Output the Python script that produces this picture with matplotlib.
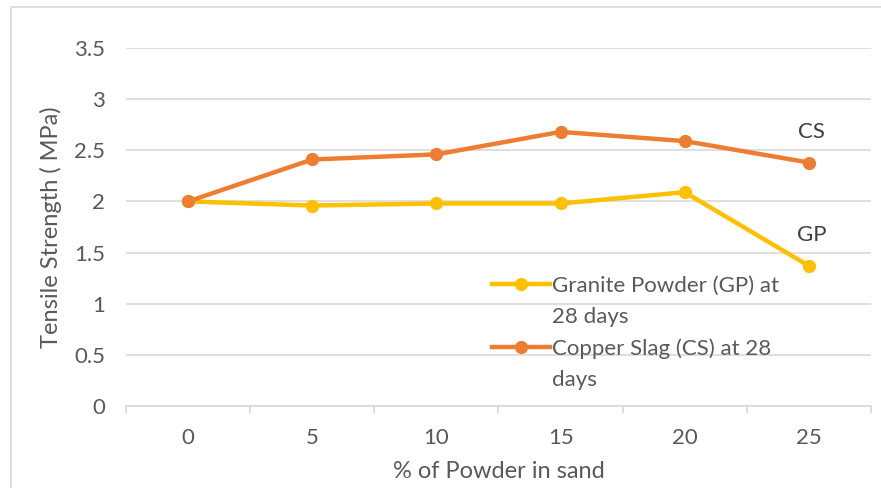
import matplotlib
matplotlib.use("Agg")
import matplotlib.pyplot as plt
from matplotlib.patches import Rectangle
from matplotlib.lines import Line2D

categories = ["0", "5", "10", "15", "20", "25"]
gp_values = [2.00, 1.96, 1.98, 1.98, 2.09, 1.37]
cs_values = [2.00, 2.41, 2.46, 2.68, 2.59, 2.38]
y_ticks = [0, 0.5, 1, 1.5, 2, 2.5, 3, 3.5]
y_tick_labels = ["0", "0.5", "1", "1.5", "2", "2.5", "3", "3.5"]

plt.rcParams['font.family'] = ['Lato', 'DejaVu Sans']
txt = '#595959'
grid_c = '#D9D9D9'
gp_c = '#FFC000'
cs_c = '#ED7D31'

W, H = 881, 488
fig = plt.figure(figsize=(W / 100, H / 100), dpi=100)
fig.patch.set_facecolor('white')

# outer chart border
fig.patches.append(Rectangle((11 / W, -0.1), 1.2, (H - 7) / H + 0.1, transform=fig.transFigure,
                             fill=False, edgecolor=grid_c, linewidth=1.2, zorder=0))

ax = fig.add_axes([126 / W, (H - 406) / H, (871 - 126) / W, (406 - 48) / H])
x = list(range(len(categories)))

gp_line, = ax.plot(x, gp_values, color=gp_c, lw=3.2, marker='o', ms=8.5,
                   solid_capstyle='round', zorder=3)
cs_line, = ax.plot(x, cs_values, color=cs_c, lw=3.2, marker='o', ms=8.5,
                   solid_capstyle='round', zorder=4)

ax.set_xlim(-0.5, len(categories) - 0.5)
ax.set_ylim(0, 3.5)
ax.set_yticks(y_ticks)
ax.set_yticklabels(y_tick_labels)
ax.set_xticks(x)
ax.set_xticklabels(categories)
ax.set_xticks([i - 0.5 for i in range(len(categories) + 1)], minor=True)

ax.tick_params(axis='y', length=0, pad=15, labelsize=16, labelcolor=txt)
ax.tick_params(axis='x', which='major', length=0, pad=16, labelsize=16, labelcolor=txt)
ax.tick_params(axis='x', which='minor', length=5, width=1.2, color=grid_c)

for s in ['top', 'right', 'left']:
    ax.spines[s].set_visible(False)
ax.spines['bottom'].set_color(grid_c)
ax.spines['bottom'].set_linewidth(1.2)

ax.yaxis.grid(True, color=grid_c, lw=1.2)
ax.set_axisbelow(True)

ax.set_xlabel('% of Powder in sand', fontsize=17, color=txt, labelpad=9)
ax.set_ylabel('Tensile Strength ( MPa)', fontsize=17, color=txt, labelpad=9)

ax.text(x[-1] + 0.02, 2.68, 'CS', fontsize=16, color='#404040', ha='center', va='center')
ax.text(x[-1] + 0.02, 1.67, 'GP', fontsize=16, color='#404040', ha='center', va='center')

blank = Line2D([], [], color='none')
gp_h = Line2D([], [], color=gp_c, lw=3.2, marker='o', ms=8.5)
cs_h = Line2D([], [], color=cs_c, lw=3.2, marker='o', ms=8.5)
leg = ax.legend([gp_h, blank, cs_h, blank],
                ['Granite Powder (GP) at', '28 days', 'Copper Slag (CS) at 28', 'days'],
                loc='upper left', bbox_to_anchor=(0.491, 0.364), frameon=False, fontsize=16,
                labelcolor=txt, handlelength=2.6, handletextpad=0.1, labelspacing=0.5,
                borderaxespad=0, borderpad=0)

fig.savefig('out.png', dpi=100, facecolor='white')
